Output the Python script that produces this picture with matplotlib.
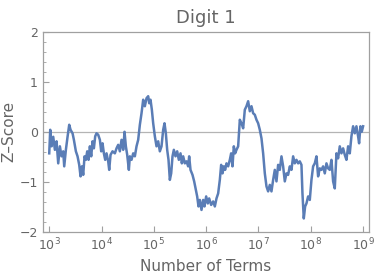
import numpy as np
import matplotlib
matplotlib.use("Agg")
import matplotlib.pyplot as plt
from matplotlib.ticker import FixedLocator, MultipleLocator, NullLocator

# exponent of number of terms (log10) and z-score
exponents = np.array([148, 151, 155, 160, 165, 170, 175, 180, 185, 190, 193, 198, 203, 208, 212, 218, 222, 228,
                      233, 238, 242, 246, 250, 254, 258, 262, 266, 270, 274, 278, 282, 286, 290, 295, 300, 304,
                      308, 312, 316, 320, 325, 328, 332, 338, 345, 350, 355, 360, 365, 370, 374, 378, 382, 387,
                      390, 395, 400, 405, 410, 415, 420, 425, 430, 435, 440, 445, 448, 452, 456, 460, 465, 470,
                      475, 480, 485, 490, 494, 498, 502, 506, 510, 514, 518, 522, 527, 532, 537, 542, 546, 550,
                      555, 560, 565, 568, 572, 578, 583, 588, 592, 596, 600, 605, 610, 614, 619, 624, 628, 634,
                      640, 645, 650, 655, 660, 664, 668, 672, 676, 680, 685, 690, 694, 698, 702, 706, 710, 715,
                      720, 725, 730, 735, 740, 745, 750, 755, 760, 765, 770, 775, 780, 785, 790, 795, 800, 805,
                      810, 815, 820, 825, 830, 835, 840, 845, 850, 855, 860, 865, 870, 875, 880, 885, 890, 895,
                      900, 905, 908, 912, 916, 920, 925, 930, 935, 940, 945, 950, 955, 960, 965, 970, 975, 980,
                      985, 990, 995, 1000, 1005, 1010, 1015, 1020, 1025, 1030, 1035, 1040, 1045, 1050, 1055,
                      1060, 1065, 1070, 1075, 1078, 1082, 1086, 1090])
exponents = 3 + (exponents - 148) / 157.0
zscore = np.array([-0.43, 0.04, -0.29, -0.10, -0.36, -0.19, -0.63, -0.29, -0.49, -0.39, -0.69, -0.36, -0.10, 0.14,
                   0.04, -0.03, -0.16, -0.39, -0.49, -0.66, -0.89, -0.69, -0.86, -0.49, -0.56, -0.39, -0.56,
                   -0.29, -0.49, -0.19, -0.33, -0.09, -0.03, -0.06, -0.16, -0.39, -0.23, -0.43, -0.56, -0.43,
                   -0.59, -0.76, -0.46, -0.39, -0.43, -0.33, -0.26, -0.39, -0.16, -0.36, 0.00, -0.29, -0.46,
                   -0.76, -0.49, -0.56, -0.43, -0.49, -0.29, -0.16, 0.14, 0.37, 0.64, 0.51, 0.67, 0.71, 0.57,
                   0.64, 0.44, 0.17, -0.09, -0.29, -0.19, -0.39, -0.29, 0.04, 0.17, -0.03, -0.36, -0.56, -0.96,
                   -0.83, -0.49, -0.36, -0.49, -0.39, -0.56, -0.43, -0.63, -0.49, -0.63, -0.59, -0.69, -0.49,
                   -0.76, -0.86, -0.99, -1.16, -1.29, -1.49, -1.36, -1.56, -1.36, -1.49, -1.29, -1.43, -1.33,
                   -1.46, -1.39, -1.49, -1.33, -1.23, -0.96, -0.66, -0.83, -0.69, -0.76, -0.63, -0.69, -0.56,
                   -0.43, -0.69, -0.29, -0.43, -0.36, -0.29, 0.24, 0.17, 0.07, 0.44, 0.51, 0.61, 0.41, 0.51,
                   0.37, 0.34, 0.24, 0.17, 0.04, -0.13, -0.43, -0.83, -1.09, -1.19, -1.06, -1.19, -0.96, -0.76,
                   -0.99, -0.66, -0.76, -0.49, -0.69, -0.99, -0.83, -0.86, -0.69, -0.76, -0.49, -0.63, -0.56,
                   -0.63, -0.59, -0.66, -1.23, -1.73, -1.49, -1.43, -1.29, -1.36, -0.96, -0.69, -0.63, -0.49,
                   -0.89, -0.73, -0.76, -0.69, -0.83, -0.63, -0.73, -0.76, -0.56, -0.99, -1.13, -0.43, -0.53,
                   -0.29, -0.43, -0.33, -0.46, -0.56, -0.29, -0.43, -0.09, 0.11, -0.03, 0.11, -0.09, -0.23,
                   0.11, 0.00, 0.11])
n_terms = 10 ** exponents
decades = [1e3, 1e4, 1e5, 1e6, 1e7, 1e8, 1e9]

text_col = "#656565"
frame_col = "#a0a0a0"

fig = plt.figure(figsize=(3.74, 2.77), dpi=100)
ax = fig.add_axes([0.114, 0.1625, 0.8735, 0.7235])

ax.axhline(0, color="#b4b4b4", lw=0.9, zorder=1)
ax.plot(n_terms, zscore, color="#5a7db6", lw=1.8, zorder=2)

ax.set_xscale("log")
ax.set_xlim(10 ** 2.874, 10 ** 9.119)
ax.set_ylim(-2, 2)
ax.xaxis.set_major_locator(FixedLocator(decades))
ax.xaxis.set_minor_locator(NullLocator())
ax.yaxis.set_major_locator(MultipleLocator(1))
ax.yaxis.set_minor_locator(MultipleLocator(0.2))

for s in ax.spines.values():
    s.set_color(frame_col)
    s.set_linewidth(0.9)

ax.tick_params(which="both", direction="in", color=frame_col, labelcolor=text_col,
               labelsize=9, top=False, right=False)
ax.tick_params(which="major", length=4, width=0.8)
ax.tick_params(which="minor", length=2, width=0.6)

ax.set_title("Digit 1", color=text_col, fontsize=13, pad=6)
ax.set_xlabel("Number of Terms", color=text_col, fontsize=11, labelpad=4)
ax.set_ylabel("Z\u2013Score", color=text_col, fontsize=11, labelpad=2)

fig.savefig("out.png", dpi=100)
